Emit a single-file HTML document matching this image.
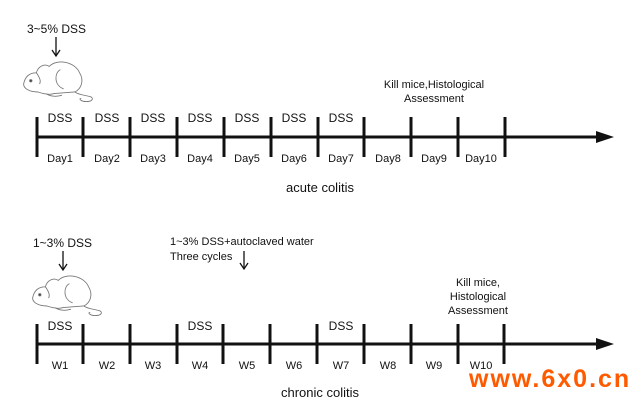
<!DOCTYPE html>
<html><head><style>
body{margin:0;background:#fff;width:643px;height:401px;overflow:hidden}
svg text{font-family:"Liberation Sans",sans-serif;fill:#111}
</style></head><body>
<svg width="643" height="401" viewBox="0 0 643 401">
<defs>
<g id="mouse" fill="none" stroke="#777" stroke-width="1.1">
<path d="M2,40 C4,30 10,26 18,26 C20,18 28,14 34,18 C44,8 66,12 72,26 C78,36 74,46 66,50 L40,52 C34,54 26,52 20,50 C10,50 2,46 2,40 Z"/>
<path d="M18,26 C22,32 24,36 22,40"/>
<path d="M48,22 C40,26 40,42 52,46"/>
<path d="M66,50 C72,54 80,54 86,56 C90,58 88,62 80,62 C74,62 70,58 74,58"/>
<path d="M30,52 C36,56 44,56 50,54"/>
<circle cx="11" cy="36" r="1.5" fill="#333"/>
</g>
</defs>

<!-- acute -->
<text x="27" y="33" font-size="12">3~5% DSS</text>
<line x1="56" y1="37" x2="56" y2="55" stroke="#111" stroke-width="1.3"/>
<path d="M52,50 L56,56 L60,50" fill="none" stroke="#111" stroke-width="1.3"/>
<use href="#mouse" transform="translate(22,52) scale(0.8)"/>
<line x1="37" y1="137" x2="598" y2="137" stroke="#111" stroke-width="3"/>
<path d="M596,131 L614,137 L596,143 Z" fill="#111"/>
<g stroke="#111" stroke-width="3">
<line x1="37" y1="117" x2="37" y2="157"/><line x1="83" y1="117" x2="83" y2="157"/><line x1="130" y1="117" x2="130" y2="157"/><line x1="177" y1="117" x2="177" y2="157"/><line x1="224" y1="117" x2="224" y2="157"/><line x1="271" y1="117" x2="271" y2="157"/><line x1="318" y1="117" x2="318" y2="157"/><line x1="364" y1="117" x2="364" y2="157"/><line x1="411" y1="117" x2="411" y2="157"/><line x1="458" y1="117" x2="458" y2="157"/><line x1="505" y1="117" x2="505" y2="157"/>
</g>
<g font-size="12" text-anchor="middle">
<text x="60" y="122">DSS</text><text x="107" y="122">DSS</text><text x="153" y="122">DSS</text><text x="200" y="122">DSS</text><text x="247" y="122">DSS</text><text x="294" y="122">DSS</text><text x="341" y="122">DSS</text>
</g>
<g font-size="11" text-anchor="middle">
<text x="60" y="162">Day1</text><text x="107" y="162">Day2</text><text x="153" y="162">Day3</text><text x="200" y="162">Day4</text><text x="247" y="162">Day5</text><text x="294" y="162">Day6</text><text x="341" y="162">Day7</text><text x="388" y="162">Day8</text><text x="434" y="162">Day9</text><text x="481" y="162">Day10</text>
<text x="434" y="88">Kill mice,Histological</text><text x="434" y="102">Assessment</text>
</g>
<text x="320" y="192" font-size="13" text-anchor="middle">acute colitis</text>

<!-- chronic -->
<text x="33" y="247" font-size="12">1~3% DSS</text>
<line x1="63" y1="251" x2="63" y2="269" stroke="#111" stroke-width="1.3"/>
<path d="M59,264 L63,270 L67,264" fill="none" stroke="#111" stroke-width="1.3"/>
<use href="#mouse" transform="translate(31,266) scale(0.8)"/>
<text x="170" y="245" font-size="11">1~3% DSS+autoclaved water</text>
<text x="170" y="260" font-size="11">Three cycles</text>
<line x1="244" y1="251" x2="244" y2="268" stroke="#111" stroke-width="1.3"/>
<path d="M240,263 L244,269 L248,263" fill="none" stroke="#111" stroke-width="1.3"/>
<line x1="37" y1="344" x2="598" y2="344" stroke="#111" stroke-width="3"/>
<path d="M596,338 L614,344 L596,350 Z" fill="#111"/>
<g stroke="#111" stroke-width="3">
<line x1="37" y1="324" x2="37" y2="364"/><line x1="83" y1="324" x2="83" y2="364"/><line x1="130" y1="324" x2="130" y2="364"/><line x1="177" y1="324" x2="177" y2="364"/><line x1="223" y1="324" x2="223" y2="364"/><line x1="270" y1="324" x2="270" y2="364"/><line x1="317" y1="324" x2="317" y2="364"/><line x1="364" y1="324" x2="364" y2="364"/><line x1="411" y1="324" x2="411" y2="364"/><line x1="458" y1="324" x2="458" y2="364"/><line x1="504" y1="324" x2="504" y2="364"/>
</g>
<g font-size="12" text-anchor="middle">
<text x="60" y="330">DSS</text><text x="200" y="330">DSS</text><text x="341" y="330">DSS</text>
</g>
<g font-size="11" text-anchor="middle">
<text x="60" y="369">W1</text><text x="107" y="369">W2</text><text x="153" y="369">W3</text><text x="200" y="369">W4</text><text x="247" y="369">W5</text><text x="294" y="369">W6</text><text x="341" y="369">W7</text><text x="388" y="369">W8</text><text x="434" y="369">W9</text><text x="481" y="369">W10</text>
<text x="478" y="286">Kill mice,</text><text x="478" y="300">Histological</text><text x="478" y="314">Assessment</text>
</g>
<text x="320" y="397" font-size="13" text-anchor="middle">chronic colitis</text>

<text x="469" y="387" font-size="25" font-weight="bold" style="fill:#ff5a00" letter-spacing="2">www.6x0.cn</text>
</svg>
</body></html>
